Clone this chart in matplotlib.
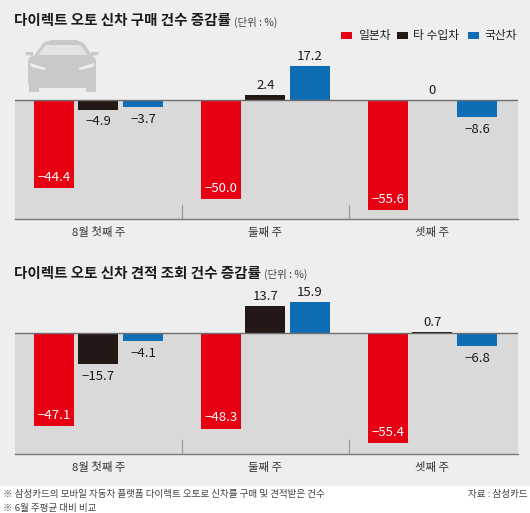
#!/usr/bin/python

import matplotlib
matplotlib.use("Agg")
import matplotlib.pyplot as plt
from matplotlib.patches import Polygon, Rectangle, FancyBboxPatch
import numpy as np

plt.rcParams["font.family"] = ["Noto Sans CJK KR", "DejaVu Sans"]

weeks = ["8월 첫째 주", "둘째 주", "셋째 주"]
series_names = ["일본차", "타 수입차", "국산차"]
series_colors = ["#e60012", "#231815", "#0f6db5"]

buy_japan = [-44.4, -50.0, -55.6]
buy_import = [-4.9, 2.4, 0]
buy_domestic = [-3.7, 17.2, -8.6]

quote_japan = [-47.1, -48.3, -55.4]
quote_import = [-15.7, 13.7, 0.7]
quote_domestic = [-4.1, 15.9, -6.8]

W, H = 530, 513


def fmt(v):
    if v == 0:
        return "0"
    return f"{v:.1f}".replace("-", "\u2212")


def draw_panel(fig, top_px, base_px, bottom_px, series):
    # axes spans the chart area, scale about 1.98 px per percent point
    ppu = 1.98
    ax = fig.add_axes([15 / W, 1 - bottom_px / H, 503 / W, (bottom_px - top_px) / H])
    ax.set_xlim(-0.5, 2.512)
    ax.set_ylim(-(bottom_px - base_px) / ppu, (base_px - top_px) / ppu)
    ax.patch.set_alpha(0)
    ax.axis("off")
    ymin = ax.get_ylim()[0]

    # gray area under baseline
    ax.axhspan(ymin, 0, color="#d9d9d9", lw=0, zorder=0)
    ax.axhline(0, color="#6f6f6f", lw=1.0, zorder=4)
    ax.plot([-0.5, 2.512], [ymin, ymin], color="#7a7a7a", lw=1.0, clip_on=False, zorder=4)

    for d in [0.5, 1.5]:
        ax.plot([d, d], [ymin, ymin + 7], color="#9a9a9a", lw=0.9)

    x = np.arange(3)
    bar_w = 40 / 167
    offs = [-44.5 / 167, 0, 44.5 / 167]
    for vals, off, col in zip(series, offs, series_colors):
        ax.bar(x + off, vals, width=bar_w, color=col, zorder=3, lw=0)
        for xi, v in zip(x + off, vals):
            if v >= 0:
                ax.annotate(fmt(v), (xi, v), xytext=(0, 2), textcoords="offset points",
                            ha="center", va="bottom", fontsize=9.5, color="#231815",
                            fontweight="medium", zorder=5)
            elif v > -20:
                ax.annotate(fmt(v), (xi, v), xytext=(0, -4), textcoords="offset points",
                            ha="center", va="top", fontsize=9.5, color="#231815",
                            fontweight="medium", zorder=5)
            else:
                ax.annotate(fmt(v), (xi, v), xytext=(0, 3), textcoords="offset points",
                            ha="center", va="bottom", fontsize=9.5, color="white",
                            fontweight="medium", zorder=5)

    for xi, name in zip(x, weeks):
        ax.annotate(name, (xi, ymin), xytext=(0, -6), textcoords="offset points",
                    ha="center", va="top", fontsize=8.2, color="#333333")
    return ax


def run():
    fig = plt.figure(figsize=(W / 100, H / 100), dpi=100, facecolor="white")

    # overlay in pixel coordinates for the background, car, legend and text
    bg = fig.add_axes([0, 0, 1, 1])
    bg.set_xlim(0, W)
    bg.set_ylim(H, 0)
    bg.axis("off")
    bg.add_patch(Rectangle((0, 0), W, 486, color="#eeeeee", lw=0))

    # car silhouette
    car = "#c9c9c9"
    bg.add_patch(FancyBboxPatch((28, 56), 68, 32, boxstyle="round,pad=0,rounding_size=6",
                                color=car, lw=0))
    bg.add_patch(Polygon([[34, 56], [44, 42], [52, 40], [76, 40], [84, 43], [92, 56]],
                         closed=True, color=car, lw=0))
    bg.add_patch(Polygon([[38, 55], [46, 45], [80, 45], [88, 55]], closed=True,
                         color="#e4e4e4", lw=0))
    bg.add_patch(Rectangle((29, 84), 10, 8, color=car, lw=0))
    bg.add_patch(Rectangle((86, 84), 10, 8, color=car, lw=0))
    bg.add_patch(Polygon([[25, 52], [33, 52], [33, 56], [26, 55]], closed=True, color=car, lw=0))
    bg.add_patch(Polygon([[91, 52], [99, 52], [98, 55], [91, 56]], closed=True, color=car, lw=0))
    bg.add_patch(Polygon([[30, 63], [46, 68], [44, 70], [31, 67]], closed=True,
                         color="#eeeeee", lw=0))
    bg.add_patch(Polygon([[94, 63], [78, 68], [80, 70], [93, 67]], closed=True,
                         color="#eeeeee", lw=0))

    # titles
    bg.text(14, 21, "다이렉트 오토 신차 구매 건수 증감률", fontsize=10.45, fontweight="bold",
            color="#1a1a1a", va="center", ha="left")
    bg.text(234, 22, "(단위 : %)", fontsize=7.5, color="#444444", va="center", ha="left")
    bg.text(14, 274, "다이렉트 오토 신차 견적 조회 건수 증감률", fontsize=10.45, fontweight="bold",
            color="#1a1a1a", va="center", ha="left")
    bg.text(264, 274, "(단위 : %)", fontsize=7.5, color="#444444", va="center", ha="left")

    # legend
    legend_x = [341, 397, 468]
    text_x = [358, 413, 484]
    for lx, tx, name, col in zip(legend_x, text_x, series_names, series_colors):
        bg.add_patch(Rectangle((lx, 32), 11, 7, color=col, lw=0))
        bg.text(tx, 35, name, fontsize=8.5, color="#222222", va="center", ha="left")

    # footer
    bg.text(3, 494, "※ 삼성카드의 모바일 자동차 플랫폼 다이렉트 오토로 신차를 구매 및 견적받은 건수",
            fontsize=6.9, color="#444444", va="center", ha="left")
    bg.text(3, 508, "※ 6월 주평균 대비 비교", fontsize=6.9, color="#444444", va="center", ha="left")
    bg.text(527, 494, "자료 : 삼성카드", fontsize=6.9, color="#444444", va="center", ha="right")

    draw_panel(fig, 60, 100, 219, [buy_japan, buy_import, buy_domestic])
    draw_panel(fig, 295, 333, 454, [quote_japan, quote_import, quote_domestic])

    fig.savefig("out.png", dpi=100, facecolor="white")


if __name__ == "__main__":
    run()
